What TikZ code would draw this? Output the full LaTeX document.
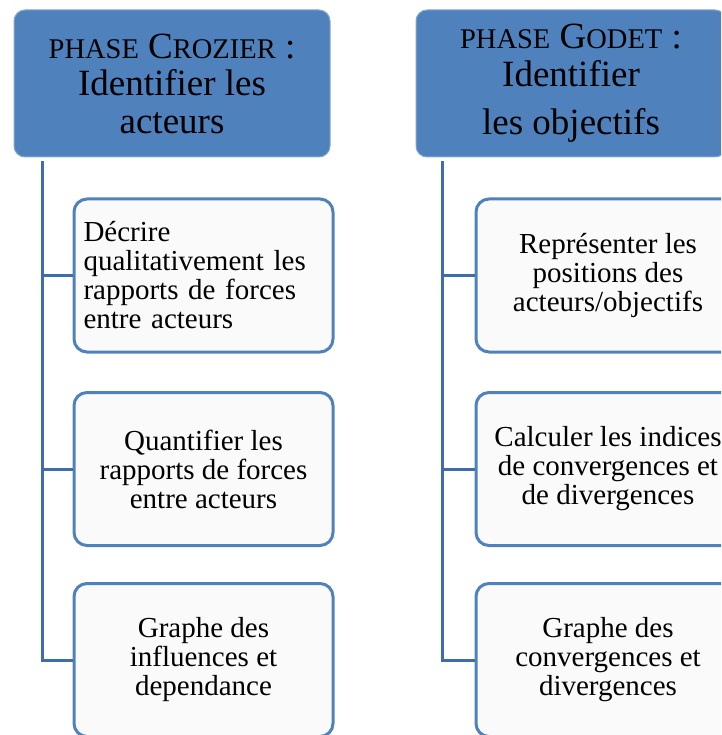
\documentclass[tikz,border=0pt]{standalone}
\usepackage{fontspec}
\setmainfont{Liberation Serif}
\definecolor{hdr}{HTML}{4F81BD}
\definecolor{lnk}{HTML}{3F6DAA}
\definecolor{boxfill}{HTML}{FAFAFA}
\newcommand\fsc[1]{{\fontsize{28.5}{28.5}\selectfont #1}}
\tikzset{
  hdrbox/.style={fill=hdr, draw=hdr!70!white, line width=1pt, rounded corners=11pt,
    minimum height=147pt, inner sep=0pt, align=center,
    font=\fontsize{37}{37.5}\selectfont},
  childbox/.style={fill=boxfill, draw=hdr, line width=3pt, rounded corners=13pt,
    minimum height=153pt, inner sep=0pt, align=center,
    font=\fontsize{29}{29}\selectfont},
  link/.style={draw=lnk, line width=3pt}
}
\begin{document}
\begin{tikzpicture}[x=1pt,y=-1pt]
\useasboundingbox (0,0) rectangle (721,735);
\clip (0,0) rectangle (721,735);
% headers
\node[hdrbox, minimum width=316pt] (hL) at (172,83.5)
  {\fsc{PHASE} C\fsc{ROZIER} :\\Identifier les\\acteurs};
\node[hdrbox, minimum width=310pt] (hR) at (571,83.5)
  {\fsc{PHASE} G\fsc{ODET} :\\Identifier\\[11pt]les objectifs};
% left children
\node[childbox, minimum width=259pt, text width=240pt, align=left] (l1) at (203.5,275.5)
  {Décrire\\qualitativement les\\rapports de forces\\entre acteurs};
\node[childbox, minimum width=259pt] (l2) at (203.5,469)
  {Quantifier les\\rapports de forces\\entre acteurs};
\node[childbox, minimum width=259pt] (l3) at (203.5,660)
  {Graphe des\\influences et\\dependance};
% right children
\node[childbox, minimum width=264pt] (r1) at (608,275.5)
  {Représenter les\\positions des\\acteurs/objectifs};
\node[childbox, minimum width=264pt] (r2) at (608,469)
  {Calculer les indices\\de convergences et\\de divergences};
\node[childbox, minimum width=264pt] (r3) at (608,660)
  {Graphe des\\convergences et\\divergences};
% connectors
\coordinate (tL) at ([xshift=29pt,yshift=-4pt]hL.south west);
\coordinate (tR) at ([xshift=27pt,yshift=-4pt]hR.south west);
\draw[link] (tL) |- (l3.west);
\draw[link] (tL) |- (l1.west);
\draw[link] (tL) |- (l2.west);
\draw[link] (tR) |- (r3.west);
\draw[link] (tR) |- (r1.west);
\draw[link] (tR) |- (r2.west);
\end{tikzpicture}
\end{document}
